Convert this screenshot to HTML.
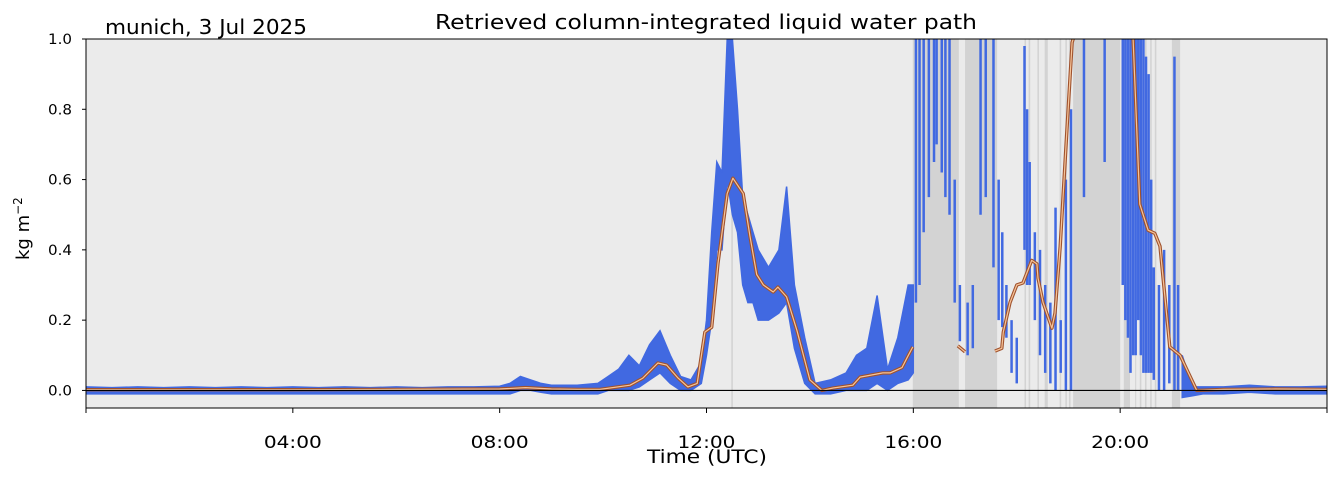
<!DOCTYPE html>
<html><head><meta charset="utf-8">
<style>
html,body{margin:0;padding:0;background:#fff;}
svg{display:block;font-family:"DejaVu Sans","Liberation Sans",sans-serif;}
</style></head>
<body>
<svg id="chart" width="1339" height="478" viewBox="0 0 1339 478" xmlns="http://www.w3.org/2000/svg">
<defs><clipPath id="clip"><rect x="86" y="39" width="1241" height="369"/></clipPath></defs>
<rect x="86" y="39" width="1241" height="369" fill="#ebebeb"/>
<g id="rain" clip-path="url(#clip)"></g>
<g id="blue" clip-path="url(#clip)"></g>
<g id="orange" clip-path="url(#clip)"></g>
<g id="axes"></g>
<text x="435" y="29" font-size="20" textLength="542" lengthAdjust="spacingAndGlyphs" fill="#000">Retrieved column-integrated liquid water path</text>
<text x="105" y="34" font-size="20" textLength="202" lengthAdjust="spacingAndGlyphs" fill="#000">munich, 3 Jul 2025</text>
<text x="647" y="463" font-size="19" textLength="120" lengthAdjust="spacingAndGlyphs" fill="#000">Time (UTC)</text>
<text transform="translate(29,260) rotate(-90)" font-size="18" fill="#000">kg m<tspan baseline-shift="super" font-size="12">−2</tspan></text>
</svg>
<script>
const rainStart=[12.48,15.99,17.0,18.15,18.23,18.40,18.54,18.83,18.94,19.01,19.09,20.07,20.29,20.38,20.48,20.58,20.67,21.0];
const rainEnd  =[12.51,16.88,17.62,18.18,18.26,18.43,18.60,18.86,18.97,19.04,20.0,20.19,20.31,20.41,20.51,20.61,20.70,21.16];

const bandT =[0,0.5,1,1.5,2,2.5,3,3.5,4,4.5,5,5.5,6,6.5,7,7.5,8,8.2,8.4,8.6,8.8,9.0,9.5,9.9,10.1,10.3,10.5,10.7,10.9,11.1,11.3,11.5,11.7,11.9,12.0,12.1,12.2,12.3,12.4,12.5,12.6,12.7,12.8,12.9,13.0,13.2,13.4,13.55,13.7,13.9,14.1,14.4,14.7,14.9,15.1,15.3,15.5,15.7,15.9,16.0];
const bandLo=[-0.01,-0.01,-0.01,-0.01,-0.01,-0.01,-0.01,-0.01,-0.01,-0.01,-0.01,-0.01,-0.01,-0.01,-0.01,-0.01,-0.01,-0.01,0,0,-0.005,-0.01,-0.01,-0.01,0,0,0,0.01,0.03,0.05,0.02,0,0,0.02,0.1,0.2,0.4,0.4,0.6,0.5,0.45,0.3,0.25,0.25,0.2,0.2,0.22,0.25,0.12,0.02,-0.01,-0.01,0,0,0,0.02,0,0.02,0.03,0.05];
const bandHi=[0.01,0.008,0.01,0.008,0.01,0.008,0.01,0.008,0.01,0.008,0.01,0.008,0.01,0.008,0.01,0.01,0.012,0.02,0.04,0.03,0.02,0.015,0.015,0.02,0.04,0.06,0.1,0.07,0.13,0.17,0.1,0.04,0.03,0.08,0.2,0.45,0.65,0.62,1.0,1.0,0.8,0.55,0.5,0.45,0.4,0.35,0.4,0.58,0.3,0.15,0.02,0.03,0.05,0.1,0.12,0.27,0.06,0.15,0.3,0.3];
const band2T =[21.2,21.4,21.6,22,22.5,23,23.5,24];
const band2Lo=[-0.02,-0.015,-0.01,-0.01,-0.005,-0.01,-0.01,-0.01];
const band2Hi=[0.1,0.01,0.01,0.01,0.015,0.01,0.01,0.012];

const streakT =[16.05,16.12,16.2,16.3,16.4,16.45,16.55,16.62,16.7,16.8,16.9,17.05,17.15,17.3,17.4,17.55,17.65,17.72,17.8,17.9,18.0,18.15,18.2,18.25,18.35,18.45,18.55,18.65,18.75,18.85,18.95,19.05,19.3,19.7,20.05,20.1,20.15,20.2,20.25,20.3,20.35,20.4,20.45,20.5,20.55,20.6,20.65,20.75,20.85,20.95,21.05,21.12];
const streakLo=[0.25,0.3,0.45,0.55,0.65,0.7,0.62,0.55,0.5,0.25,0.14,0.1,0.12,0.5,0.55,0.35,0.2,0.18,0.15,0.05,0.02,0.4,0.3,0.3,0.2,0.1,0.05,0.02,0.0,0.05,0.0,0.0,0.55,0.65,0.3,0.2,0.15,0.05,0.1,0.1,0.2,0.1,0.05,0.05,0.05,0.05,0.03,0.0,0.0,0.02,0.0,0.0];
const streakHi=[1.0,1.0,1.0,1.0,1.0,1.0,1.0,1.0,1.0,0.6,0.3,0.25,0.3,1.0,1.0,1.0,0.6,0.45,0.3,0.2,0.15,0.98,0.8,0.65,0.45,0.4,0.3,0.25,0.52,0.2,0.6,0.8,1.0,1.0,1.0,1.0,1.0,1.0,1.0,1.0,1.0,1.0,1.0,0.95,0.9,0.6,0.35,0.3,0.4,0.3,0.95,0.3];

const smoothSegT=[
 [0,2,4,6,8,8.5,9,9.5,9.94,10.52,10.77,11.06,11.23,11.45,11.64,11.82,11.97,12.1,12.22,12.4,12.51,12.71,12.84,12.97,13.1,13.29,13.38,13.55,13.75,14.0,14.23,14.45,14.83,14.97,15.41,15.55,15.78,15.88,15.99],
 [16.86,17.0],
 [17.58,17.71,17.74,17.87,18.0,18.12,18.29,18.39,18.41,18.51,18.68,18.74,18.84,18.97,19.07,19.3,20.0,20.25,20.38,20.54,20.67,20.77,20.96,21.16,21.48,22,23,24]
];
const smoothSegV=[
 [0.002,0.002,0.002,0.003,0.004,0.008,0.004,0.003,0.003,0.015,0.035,0.078,0.072,0.035,0.01,0.02,0.166,0.18,0.36,0.56,0.604,0.56,0.44,0.33,0.3,0.28,0.294,0.266,0.17,0.03,0.0,0.007,0.015,0.038,0.05,0.05,0.065,0.093,0.124],
 [0.127,0.11],
 [0.112,0.12,0.166,0.25,0.3,0.306,0.37,0.36,0.32,0.25,0.177,0.22,0.41,0.74,0.99,1.1,1.1,1.0,0.53,0.456,0.447,0.41,0.124,0.1,0.0,0.003,0.004,0.003]
];

const yTicks=[0,0.2,0.4,0.6,0.8,1.0];
const yTickLabels=["0.0","0.2","0.4","0.6","0.8","1.0"];
const xTicks=[0,4,8,12,16,20,24];
const xTickLabels=["","04:00","08:00","12:00","16:00","20:00",""];

const X0=86,X1=1327,Y0=408,Y1=39,VMIN=-0.05,VMAX=1.0;
function xs(t){return X0+(t/24)*(X1-X0);}
function ys(v){return Y0-(v-VMIN)/(VMAX-VMIN)*(Y0-Y1);}
const NS="http://www.w3.org/2000/svg";
function mk(tag,parent){const e=document.createElementNS(NS,tag);parent.appendChild(e);return e;}

const rainG=document.getElementById('rain');
for(let i=0;i<rainStart.length;i++){
  const r=mk('rect',rainG);
  
  
  const a=xs(rainStart[i]),b=xs(rainEnd[i]);
  r.setAttribute('x',a);r.setAttribute('y',Y1);
  r.setAttribute('width',Math.max(1,b-a));r.setAttribute('height',Y0-Y1);
  r.setAttribute('fill','#d3d3d3');
}

const blueG=document.getElementById('blue');
function band(T,L,H){
  let d='';
  for(let i=0;i<T.length;i++)d+=(i?'L':'M')+xs(T[i]).toFixed(1)+','+ys(H[i]).toFixed(1);
  for(let i=T.length-1;i>=0;i--)d+='L'+xs(T[i]).toFixed(1)+','+ys(L[i]).toFixed(1);
  const p=mk('path',blueG);
  
  
  p.setAttribute('d',d+'Z');p.setAttribute('fill','#4169e1');
  p.setAttribute('stroke','#4169e1');p.setAttribute('stroke-width','1.5');
}
band(bandT,bandLo,bandHi);
band(band2T,band2Lo,band2Hi);
for(let i=0;i<streakT.length;i++){
  const l=mk('line',blueG);
  
  
  l.setAttribute('x1',xs(streakT[i]));l.setAttribute('x2',xs(streakT[i]));
  l.setAttribute('y1',ys(streakLo[i]));l.setAttribute('y2',ys(streakHi[i]));
  l.setAttribute('stroke','#4169e1');l.setAttribute('stroke-width','2.5');
}

const orG=document.getElementById('orange');
for(let s=0;s<smoothSegT.length;s++){
  let pts=smoothSegT[s].map((t,i)=>xs(t).toFixed(1)+','+ys(smoothSegV[s][i]).toFixed(1)).join(' ');
  const o=mk('polyline',orG);
  
  
  o.setAttribute('points',pts);o.setAttribute('fill','none');
  o.setAttribute('stroke','#a0522d');o.setAttribute('stroke-width','3.4');o.setAttribute('stroke-linejoin','round');
  const n=mk('polyline',orG);
  
  
  n.setAttribute('points',pts);n.setAttribute('fill','none');
  n.setAttribute('stroke','#f6c49a');n.setAttribute('stroke-width','1.2');n.setAttribute('stroke-linejoin','round');
}

const ax=document.getElementById('axes');
const zl=mk('line',ax);


zl.setAttribute('x1',X0);zl.setAttribute('x2',X1);zl.setAttribute('y1',ys(0));zl.setAttribute('y2',ys(0));
zl.setAttribute('stroke','#000');zl.setAttribute('stroke-width','1.2');
const fr=mk('rect',ax);


fr.setAttribute('x',X0);fr.setAttribute('y',Y1);fr.setAttribute('width',X1-X0);fr.setAttribute('height',Y0-Y1);
fr.setAttribute('fill','none');fr.setAttribute('stroke','#000');fr.setAttribute('stroke-width','1');
for(let i=0;i<yTicks.length;i++){
  const y=ys(yTicks[i]);
  const t=mk('line',ax);
  
  
  t.setAttribute('x1',X0-4);t.setAttribute('x2',X0);t.setAttribute('y1',y);t.setAttribute('y2',y);t.setAttribute('stroke','#000');
  const l=mk('text',ax);
  
  
  l.setAttribute('x',X0-38);l.setAttribute('y',y+5);l.setAttribute('font-size','14');
  l.setAttribute('textLength','24');l.setAttribute('lengthAdjust','spacingAndGlyphs');
  l.textContent=yTickLabels[i];
}
for(let i=0;i<xTicks.length;i++){
  const x=xs(xTicks[i]);
  const t=mk('line',ax);
  
  
  t.setAttribute('x1',x);t.setAttribute('x2',x);t.setAttribute('y1',Y0);t.setAttribute('y2',Y0+5);t.setAttribute('stroke','#000');
  if(xTickLabels[i]){
    const l=mk('text',ax);
    
    
    l.setAttribute('x',x-29);l.setAttribute('y',Y0+40);l.setAttribute('font-size','17');
    l.setAttribute('textLength','58');l.setAttribute('lengthAdjust','spacingAndGlyphs');
    l.textContent=xTickLabels[i];
  }
}
</script>
</body></html>
